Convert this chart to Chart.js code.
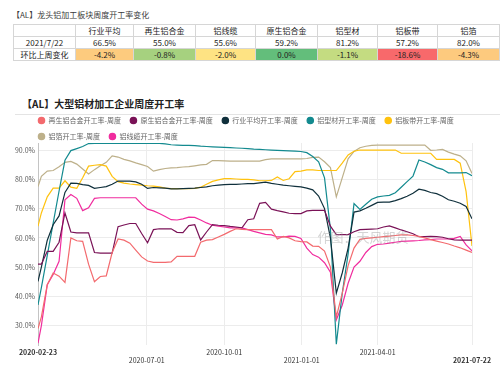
<!DOCTYPE html>
<html lang="zh">
<head>
<meta charset="utf-8">
<title>大型铝材加工企业周度开工率</title>
<script src="https://cdn.jsdelivr.net/npm/chart.js@4.4.1/dist/chart.umd.min.js"></script>
<style>
  html, body { margin: 0; padding: 0; background: #fff; }
  body {
    width: 500px; height: 369px; position: relative; overflow: hidden;
    font-family: "Noto Sans CJK SC", "Noto Sans", sans-serif; color: #333;
  }
  .title-small { position: absolute; left: 12px; top: 9px; font-size: 8px; line-height: 12px; color: #3a3a3a; }
  #summary { position: absolute; left: 13px; top: 24px; border-collapse: collapse; table-layout: fixed; font-size: 8px; color: #222; }
  #summary td { border: 1px solid #d6d6d6; height: 11px; line-height: 11px; padding: 0; text-align: center; white-space: nowrap; overflow: hidden; }
  .title-main { position: absolute; left: 22px; top: 97px; font-size: 10px; line-height: 14px; font-weight: bold; color: #222; }
  .rule { position: absolute; left: 15px; top: 114px; width: 485px; height: 1px; background: #e4e4e4; }
  #wrap { position: absolute; left: 0; top: 108px; width: 500px; height: 261px; }
</style>
</head>
<body>
<div class="title-small">【AL】龙头铝加工板块周度开工率变化</div>
<table id="summary"></table>
<div class="title-main">【AL】大型铝材加工企业周度开工率</div>
<div class="rule"></div>
<div id="wrap"><canvas id="chart" width="500" height="261"></canvas></div>

<script>
// ---- summary table data ----
const tableColumns = ['行业平均', '再生铝合金', '铝线缆', '原生铝合金', '铝型材', '铝板带', '铝箔'];
const latestDate = '2021/7/22';
const latestRates = ['66.5%', '55.0%', '55.6%', '59.2%', '81.2%', '57.2%', '82.0%'];
const changeLabel = '环比上周变化';
const weeklyChanges = ['-4.2%', '-0.8%', '-2.0%', '0.0%', '-1.1%', '-18.6%', '-4.3%'];

// cell styling (colour scale like the source sheet)
const changeFills = ['#FDCB7E', '#A6D17F', '#FEE383', '#63BE7B', '#C4DC81', '#F8696B', '#FDCA7E'];
const colWidths = [62, 58, 62, 60, 62, 60, 60, 62];

// ---- chart data ----
const weekDates = [
  '2020-02-23', '2020-02-27', '2020-03-05', '2020-03-12', '2020-03-19', '2020-03-26',
  '2020-04-02', '2020-04-09', '2020-04-16', '2020-04-23', '2020-04-30',
  '2020-05-07', '2020-05-14', '2020-05-21', '2020-05-28',
  '2020-06-04', '2020-06-11', '2020-06-18', '2020-06-25',
  '2020-07-02', '2020-07-09', '2020-07-16', '2020-07-23', '2020-07-30',
  '2020-08-06', '2020-08-13', '2020-08-20', '2020-08-27',
  '2020-09-03', '2020-09-10', '2020-09-17', '2020-09-24',
  '2020-10-01', '2020-10-08', '2020-10-15', '2020-10-22', '2020-10-29',
  '2020-11-05', '2020-11-12', '2020-11-19', '2020-11-26',
  '2020-12-03', '2020-12-10', '2020-12-17', '2020-12-24', '2020-12-31',
  '2021-01-07', '2021-01-14', '2021-01-21', '2021-01-28',
  '2021-02-04', '2021-02-11', '2021-02-18', '2021-02-25',
  '2021-03-04', '2021-03-11', '2021-03-18', '2021-03-25',
  '2021-04-01', '2021-04-08', '2021-04-15', '2021-04-22', '2021-04-29',
  '2021-05-06', '2021-05-13', '2021-05-20', '2021-05-27',
  '2021-06-03', '2021-06-10', '2021-06-17', '2021-06-24',
  '2021-07-01', '2021-07-08', '2021-07-15', '2021-07-22'
];
const tickDates = ['2020-02-23', '2020-07-01', '2020-10-01', '2021-01-01', '2021-04-01', '2021-07-22'];
const yTicks = [30, 40, 50, 60, 70, 80, 90];

const seriesNames = [
  '再生铝合金开工率-周度', '原生铝合金开工率-周度', '行业平均开工率-周度', '铝型材开工率-周度',
  '铝板带开工率-周度', '铝箔开工率-周度', '铝线缆开工率-周度'
];

const recycledAlloy = [29, 33, 44, 48, 46.9, 44.8, 60, 59, 58.8, 51,
  45, 46.8, 47, 55, 59.6, 59.2, 58.2, 55.8, 53.5, 52.1,
  51.6, 51.6, 51.6, 51.8, 53.7, 53.7, 53.7, 53.7, 58.5, 59.2,
  59.4, 60.3, 61.2, 62.2, 63.1, 62.9, 62.8, 62.8, 62.8, 62.8,
  62.8, 59.6, 60.5, 60, 59, 58.7, 58.6, 57.2, 57.1, 55.5,
  50, 33, 41, 50.5, 56.5, 59.5, 59.8, 60, 60.2, 60.4,
  60.6, 60.8, 61, 61, 60.8, 60.5, 60, 59.4, 58.9, 58.4,
  57.9, 57.2, 56.6, 55.8, 55];
const primaryAlloy = [51, 51, 55.4, 55.4, 58.5, 68.5, 62, 61.7, 61.7, 61.7,
  55, 54.8, 54.8, 54.8, 63.8, 64.4, 64.9, 64.9, 61.5, 58.3,
  62.8, 63.1, 63.1, 63.1, 61.9, 61.8, 64.2, 64.5, 59.3, 62,
  64.5, 64.3, 64.2, 63.9, 63.7, 63.4, 66.2, 66.5, 71.8, 72.1,
  69.8, 69.3, 68.9, 68.4, 68.3, 68.3, 69.2, 69.4, 69.4, 69.4,
  64, 61.1, 61.1, 61.1, 62.1, 62.8, 62.9, 63, 63.1, 63.7,
  64.1, 63.4, 62.7, 62.1, 61.4, 60.4, 60.4, 60.5, 60.4, 60.2,
  59.7, 59.3, 59.2, 59.2, 59.2];
const industryAvg = [45.1, 50, 59.2, 64.5, 67.5, 75.5, 78.7, 78.6, 78.2, 77.9,
  76.9, 77.2, 77.5, 78.3, 79.4, 79.4, 79.4, 79.1, 78.3, 76.9,
  77.2, 77.1, 77, 76.7, 76.7, 76.8, 76.9, 77, 77.2, 77.4,
  77.8, 78, 78.2, 78.3, 78.3, 78.4, 78.5, 78.5, 78.8, 79,
  78.6, 78.3, 78, 77.8, 77.6, 77.4, 77, 76.4, 74.3, 70,
  60, 41.1, 48, 56.5, 68.8, 69.2, 70.1, 71.1, 72.1, 72.2,
  72.2, 72.7, 73.4, 74.2, 75.2, 76.6, 76.2, 75.5, 75.1, 74.2,
  73, 72.5, 71.8, 70.7, 66.5];
const extrusion = [37.1, 43, 54, 65, 76, 86.5, 89.8, 90.5, 91.2, 92.2,
  92.3, 92.3, 92.3, 92.3, 92.3, 92.3, 92.3, 92.3, 92.3, 92.3,
  92.3, 92.3, 92.1, 91.8, 91.7, 91.6, 91.6, 91.5, 91.3, 91.2,
  91.1, 91, 90.9, 90.8, 90.7, 90.6, 90.5, 90.3, 90.2, 90.1,
  90, 89.9, 89.8, 89.7, 89.6, 89.5, 89.1, 87.8, 86, 80.5,
  63, 23.7, 41, 54.5, 71.7, 69.7, 71.5, 73.2, 74, 74.3,
  74.5, 75.4, 77.3, 79.2, 81.1, 86.6, 85.9, 85, 84, 83.4,
  82.2, 82.2, 82.2, 82.3, 81.2];
const plateStrip = [64, 68.5, 74, 77, 77, 79.5, 77.3, 76.9, 80.5, 84.5,
  84.8, 85, 84.5, 81, 79.2, 78.7, 78.4, 78.2, 78, 77.8,
  77.7, 77.4, 77, 76.8, 76.8, 76.8, 76.8, 76.9, 77.3, 78.3,
  79.3, 79.8, 80.2, 80.2, 80.1, 80, 80, 79.8, 79.5, 79.5,
  79.6, 80.8, 79.6, 80.2, 82.6, 82.8, 83.2, 83.2, 83, 83,
  83, 83, 85.5, 88.3, 89.6, 90, 90, 90, 90, 90,
  90, 90, 88.9, 88.9, 88.9, 88.9, 88.9, 88.9, 86.8, 86.8,
  86.8, 86.8, 85.5, 75.8, 57.2];
const foil = [77.5, 81, 82.8, 83, 84.3, 85.8, 86.1, 85.2, 83.5, 81.8,
  83.3, 84.6, 85.8, 88, 87.6, 86.8, 86.3, 85.6, 85, 84.4,
  82.8, 83.3, 83.7, 83.9, 84, 84.2, 84.3, 84.6, 84.9, 85.1,
  86.4, 86.4, 86.3, 86.2, 86.2, 86.2, 86.2, 86.2, 86.2, 86.7,
  87, 87, 87, 87, 87, 87, 87.1, 87.5, 87.6, 86,
  84, 74, 80.5, 87, 89.5, 90.8, 91.3, 91.6, 91.7, 91.7,
  91.7, 91.7, 91.7, 91.7, 91.7, 91.7, 91.7, 89.9, 90, 90.2,
  89.3, 88.6, 88, 86.3, 82];
const cable = [24, 30, 44, 47.5, 52, 73, 74.8, 73.5, 69.3, 70.3,
  73.5, 73.7, 73.7, 73.7, 73.7, 73.7, 73.7, 73.7, 71.5, 69.8,
  69.2, 68.3, 67.3, 66.2, 66.1, 66.5, 67.1, 67, 66.1, 65.1,
  64.3, 64, 63.7, 63.4, 63.4, 63.4, 62.8, 62.2, 61.7, 61.2,
  61, 60.3, 60.3, 60.6, 60.5, 59.8, 56.5, 54.3, 53.4, 51.5,
  48.3, 32, 37, 44.5, 50, 52, 55, 57, 57.8, 57.9,
  58.2, 58.5, 58.8, 58.9, 59, 59.1, 59.3, 59.4, 59.6, 59.6,
  59.6, 59.8, 60.5, 57.6, 55.6];

const seriesValues = [recycledAlloy, primaryAlloy, industryAvg, extrusion, plateStrip, foil, cable];
const lineColors = ['#F36A6E', '#7A1257', '#10303C', '#138A8F', '#FFC20E', '#BDB08A', '#F02C9E'];

const FONT = '"Noto Sans CJK SC", "Noto Sans", sans-serif';

// ---- build the table ----
function buildTable() {
  const table = document.getElementById('summary');
  const colgroup = document.createElement('colgroup');
  colWidths.forEach(w => {
    const col = document.createElement('col');
    col.style.width = w + 'px';
    colgroup.appendChild(col);
  });
  table.appendChild(colgroup);

  const rows = [
    [''].concat(tableColumns),
    [latestDate].concat(latestRates),
    [changeLabel].concat(weeklyChanges)
  ];
  rows.forEach((cells, r) => {
    const tr = document.createElement('tr');
    cells.forEach((text, c) => {
      const td = document.createElement('td');
      td.textContent = text;
      if (r === 2 && c > 0) td.style.background = changeFills[c - 1];
      tr.appendChild(td);
    });
    table.appendChild(tr);
  });
}
buildTable();

// ---- chart ----
const DAY = 86400000;
const origin = Date.parse(weekDates[0]);
const dayOf = s => Math.round((Date.parse(s) - origin) / DAY);
const tickDays = tickDates.map(dayOf);

const datasets = seriesNames.map((name, i) => ({
  label: name,
  data: weekDates.map((d, j) => ({ x: dayOf(d), y: seriesValues[i][j] })),
  borderColor: lineColors[i],
  backgroundColor: lineColors[i],
  borderWidth: 1.2,
  pointRadius: 0,
  pointStyle: 'circle',
  tension: 0
}));

// compact legend, lined up with the plot's left edge
const legendBox = {
  id: 'legendBox',
  beforeInit(chart) {
    const fit = chart.legend.fit;
    chart.legend.fit = function () {
      fit.call(this);
      this.height = 35;
    };
  },
  afterLayout(chart) {
    const lg = chart.legend;
    lg.left = 29;
    lg.right = 472;
    lg.width = lg.right - lg.left;
  }
};

const watermark = {
  id: 'watermark',
  afterDatasetsDraw(chart) {
    const ctx = chart.ctx;
    ctx.save();
    ctx.font = '13px ' + FONT;
    ctx.fillStyle = 'rgba(160,160,160,0.45)';
    ctx.textAlign = 'center';
    ctx.textBaseline = 'middle';
    ctx.fillText('作图：天风期货', 363, 129);
    ctx.restore();
  }
};

new Chart(document.getElementById('chart'), {
  type: 'line',
  data: { datasets },
  plugins: [legendBox, watermark],
  options: {
    responsive: false,
    animation: false,
    devicePixelRatio: 1,
    layout: { padding: { left: 0, right: 28, top: 0, bottom: 0 } },
    plugins: {
      legend: {
        position: 'top',
        align: 'start',
        labels: {
          usePointStyle: true,
          pointStyle: 'circle',
          boxHeight: 4.5,
          padding: 9,
          color: '#666',
          font: { size: 7, family: FONT }
        }
      },
      tooltip: { enabled: false }
    },
    scales: {
      x: {
        type: 'linear',
        min: tickDays[0],
        max: tickDays[tickDays.length - 1],
        afterBuildTicks: scale => { scale.ticks = tickDays.map(v => ({ value: v })); },
        afterFit: scale => { scale.height = 24; scale.paddingLeft = 0; scale.paddingRight = 0; },
        grid: { color: '#ececec', drawTicks: false },
        border: { display: false },
        ticks: {
          autoSkip: false,
          maxRotation: 0,
          minRotation: 0,
          padding: 3,
          color: '#333',
          font: ctx => ({
            size: 7,
            family: FONT,
            weight: (ctx.index === 0 || ctx.index === tickDays.length - 1) ? 'bold' : 'normal'
          }),
          // every other date sits one line lower, like the original
          callback: (value, index) => index % 2 === 1 ? ['', tickDates[index]] : tickDates[index]
        }
      },
      y: {
        min: 23.4,
        max: 92.4,
        afterBuildTicks: scale => { scale.ticks = yTicks.map(v => ({ value: v })); },
        afterFit: scale => { scale.width = 38; scale.paddingTop = 0; scale.paddingBottom = 0; },
        grid: { color: '#ececec', drawTicks: false },
        border: { display: true, color: '#c4c4c4' },
        ticks: {
          autoSkip: false,
          padding: 3,
          color: '#5a5a5a',
          font: { size: 7, family: FONT },
          callback: v => v.toFixed(1) + '%'
        }
      }
    }
  }
});
</script>
</body>
</html>
